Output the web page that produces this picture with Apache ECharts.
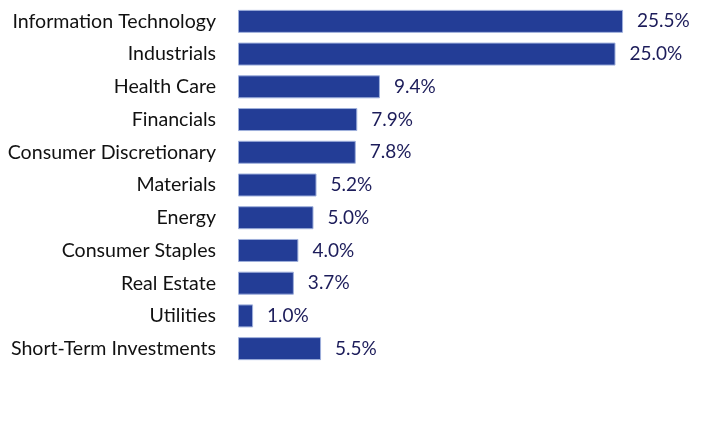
<!DOCTYPE html>
<html>
<head>
<meta charset="utf-8">
<script src="https://cdn.jsdelivr.net/npm/echarts@6/dist/echarts.min.js"></script>
<style>
  html, body { margin: 0; padding: 0; background: #fff; }
  #main { width: 720px; height: 432px; }
</style>
</head>
<body>
<div id="main"></div>
<script>
var categories = ['Information Technology', 'Industrials', 'Health Care', 'Financials',
  'Consumer Discretionary', 'Materials', 'Energy', 'Consumer Staples', 'Real Estate',
  'Utilities', 'Short-Term Investments'];
var values = [25.5, 25.0, 9.4, 7.9, 7.8, 5.2, 5.0, 4.0, 3.7, 1.0, 5.5];

var myChart = echarts.init(document.getElementById('main'));
var option = {
  animation: false,
  grid: { left: 238, right: 29, top: 5, bottom: 67 },
  xAxis: {
    type: 'value',
    min: 0,
    max: 30,
    show: false
  },
  yAxis: {
    type: 'category',
    data: categories,
    inverse: true,
    axisLine: { show: false },
    axisTick: { show: false },
    axisLabel: {
      color: '#111',
      fontFamily: 'Lato',
      fontSize: 19.6,
      margin: 22
    }
  },
  series: [{
    type: 'bar',
    data: values,
    barWidth: 23,
    itemStyle: {
      color: '#233d96',
      borderColor: '#9fb0dc',
      borderWidth: 1
    },
    label: {
      show: true,
      position: 'right',
      distance: 14,
      color: '#1c1c5a',
      fontFamily: 'Lato',
      fontSize: 19,
      formatter: function (p) { return p.value.toFixed(1) + '%'; }
    }
  }]
};
myChart.setOption(option);
</script>
</body>
</html>
